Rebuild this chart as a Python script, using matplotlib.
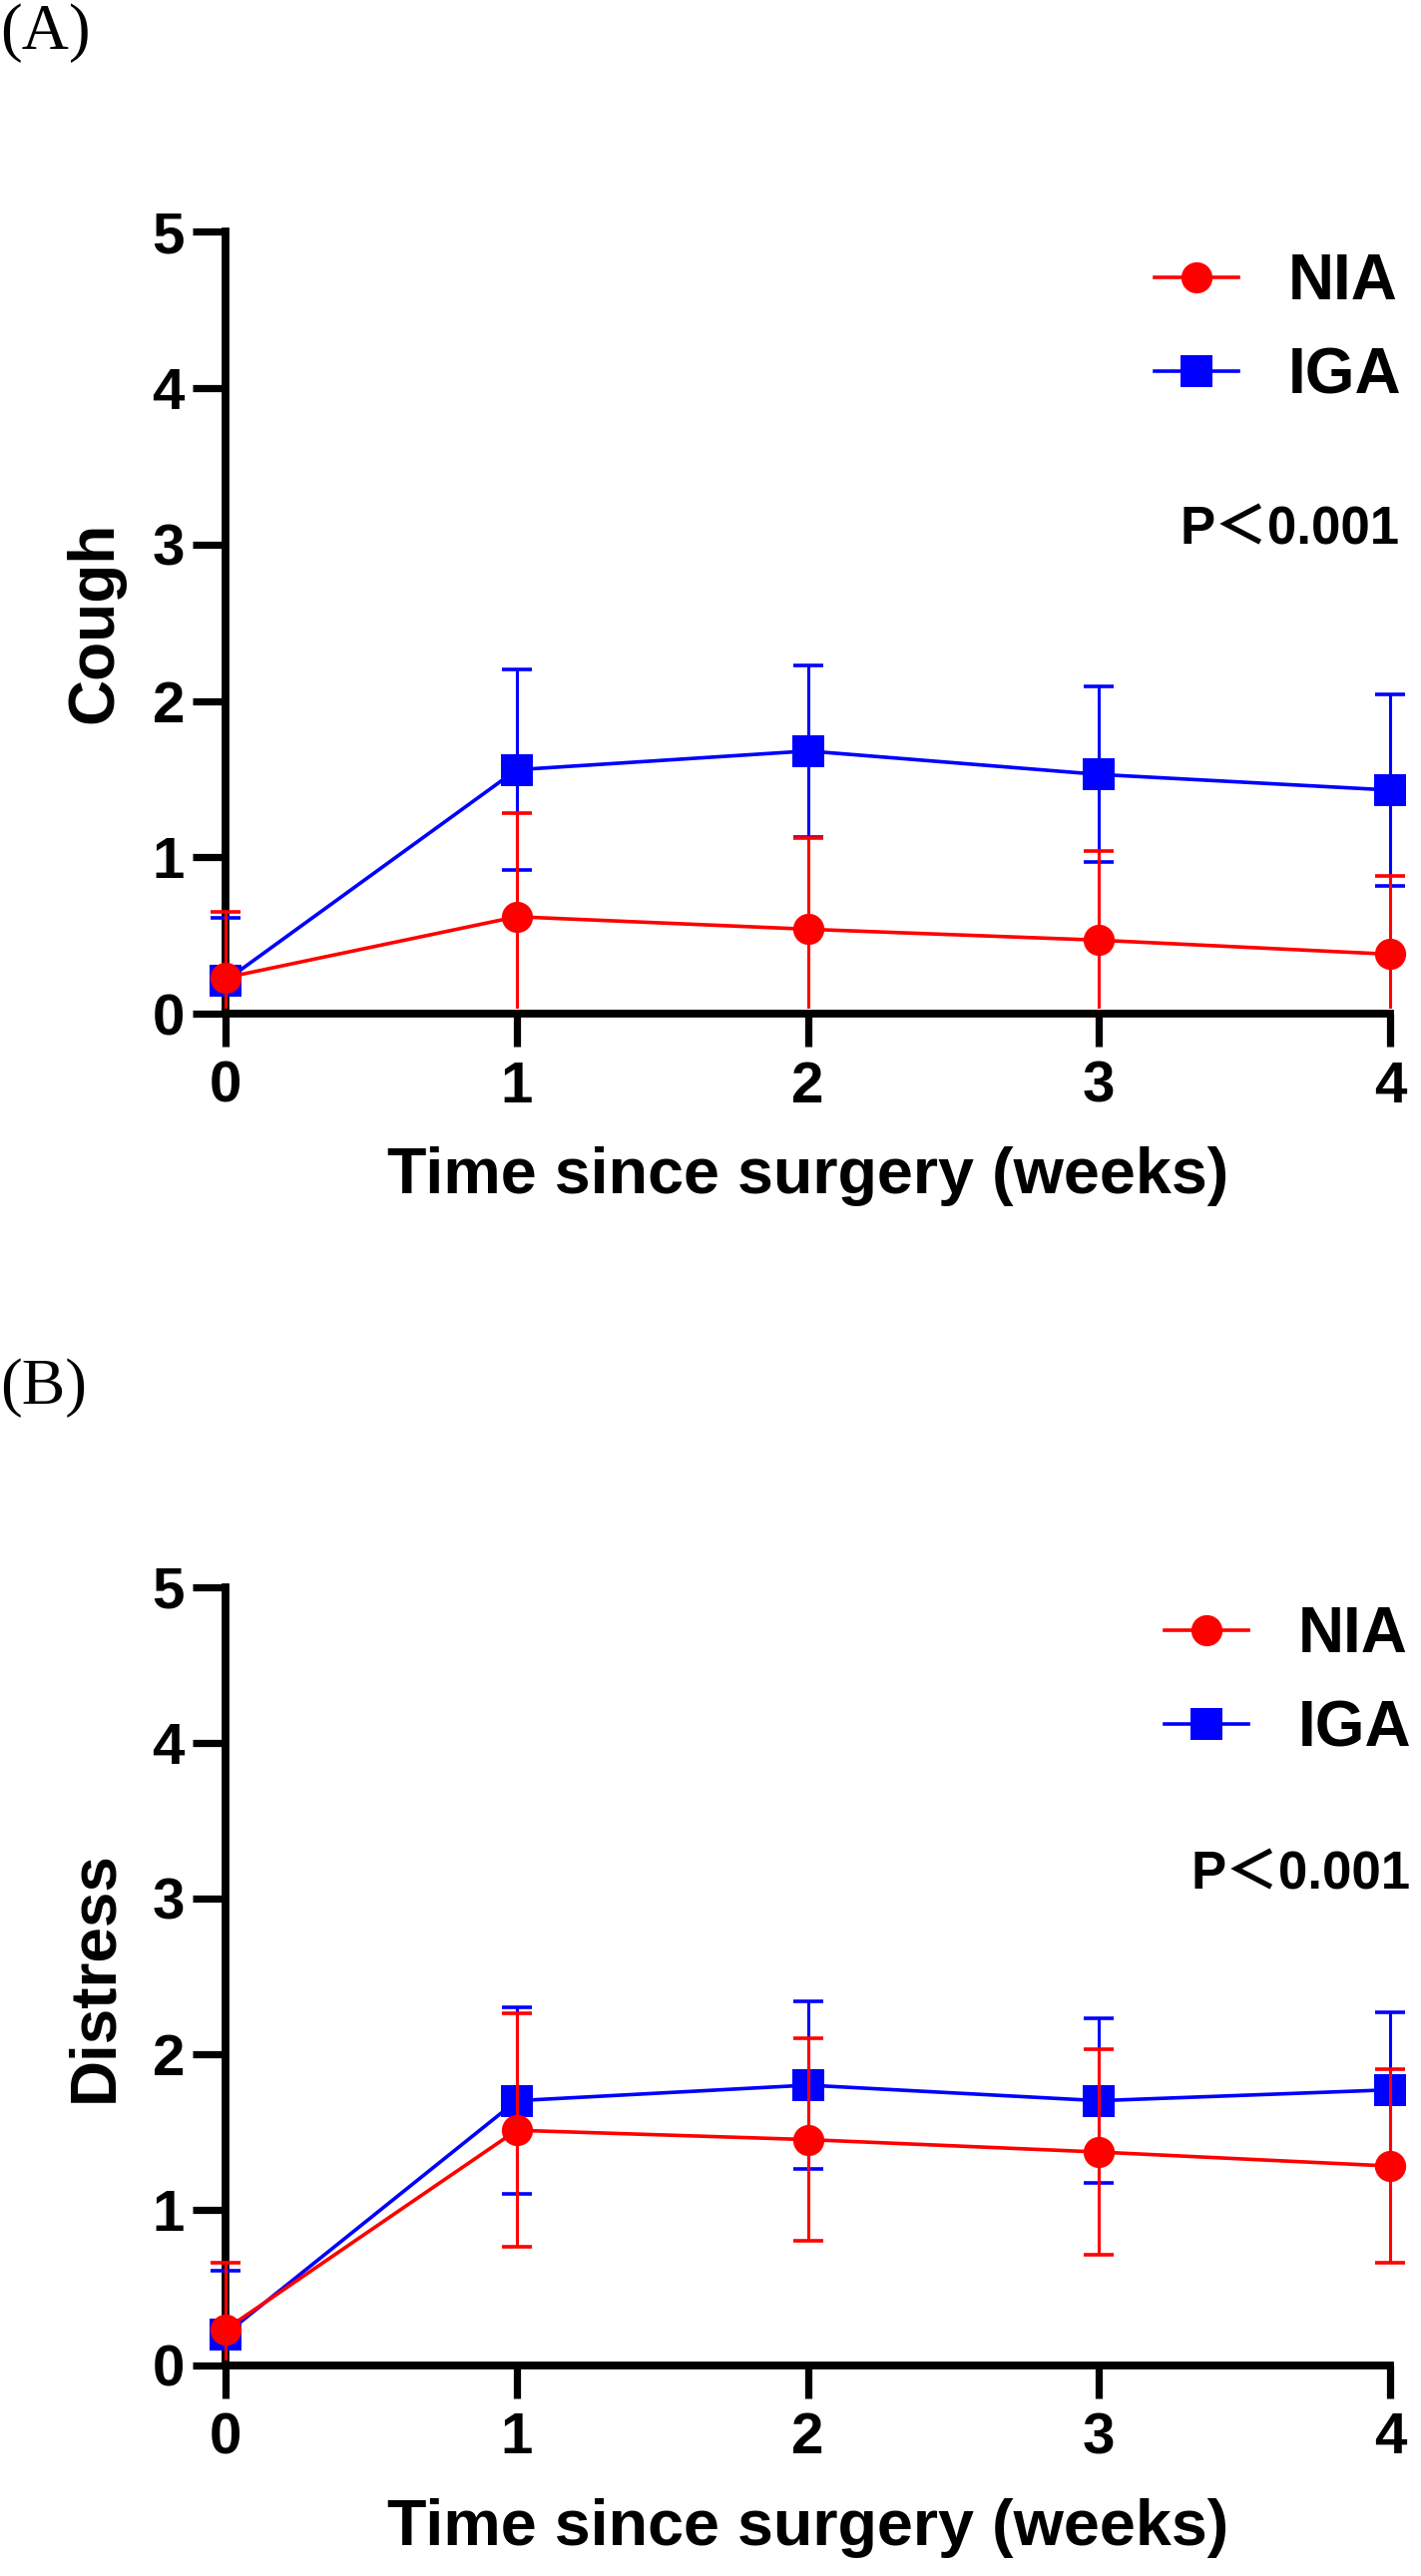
import matplotlib
matplotlib.use("Agg")
import matplotlib.pyplot as plt
from matplotlib.patches import Rectangle

plt.rcParams['font.family'] = ['Liberation Sans', 'Noto Sans CJK SC', 'DejaVu Sans']
plt.rcParams['font.weight'] = 'bold'

weeks = [0, 1, 2, 3, 4]
group_names = ["NIA", "IGA"]

cough_nia_mean = [0.23, 0.62, 0.54, 0.47, 0.38]
cough_nia_sd = [0.42, 0.66, 0.58, 0.57, 0.50]
cough_iga_mean = [0.21, 1.56, 1.68, 1.53, 1.43]
cough_iga_sd = [0.40, 0.64, 0.55, 0.56, 0.61]

distress_nia_mean = [0.23, 1.51, 1.45, 1.37, 1.28]
distress_nia_sd = [0.43, 0.75, 0.65, 0.66, 0.62]
distress_iga_mean = [0.20, 1.70, 1.80, 1.70, 1.77]
distress_iga_sd = [0.41, 0.60, 0.54, 0.53, 0.50]

y_ticks = [0, 1, 2, 3, 4, 5]
x_label = "Time since surgery (weeks)"
p_text = "P\uff1c0.001"

RED = "#FF0000"
BLUE = "#0000FF"

W, H = 1424, 2582
fig = plt.figure(figsize=(W / 100, H / 100), dpi=100)
fig.patch.set_facecolor("white")


def draw_panel(ax, nia_m, nia_s, iga_m, iga_s, ylabel, leg_anchor, p_pos, xlab_y):
    clip_rect = Rectangle((-0.1, 0.006), 1.2, 1.2, transform=ax.transAxes)
    handles = []
    for m, s, color, marker, z, name in [
        (iga_m, iga_s, BLUE, 's', 3, "IGA"),
        (nia_m, nia_s, RED, 'o', 6, "NIA"),
    ]:
        eb = ax.errorbar(weeks, m, yerr=s, fmt='none', ecolor=color,
                         elinewidth=2.2, capsize=11, capthick=2.6, zorder=z)
        for art in list(eb.lines[1]) + list(eb.lines[2]):
            art.set_clip_box(None)
            art.set_clip_path(clip_rect)
        ln, = ax.plot(weeks, m, color=color, lw=2.6, marker=marker,
                      markersize=22.5, markeredgewidth=0, clip_on=False,
                      zorder=z + 1, label=name)
        handles.append(ln)
    handles = handles[::-1]

    ax.set_xlim(0, 4)
    ax.set_ylim(0, 5)
    ax.set_xticks(weeks)
    ax.set_yticks(y_ticks)
    for side in ['top', 'right']:
        ax.spines[side].set_visible(False)
    for side in ['left', 'bottom']:
        ax.spines[side].set_linewidth(5.6)
        ax.spines[side].set_zorder(2.5)
    ax.tick_params(axis='both', which='major', length=23.5, width=5.2,
                   labelsize=42, direction='out')
    ax.tick_params(axis='x', pad=10)
    ax.tick_params(axis='y', pad=6)
    for lab in ax.get_xticklabels() + ax.get_yticklabels():
        lab.set_fontweight('bold')

    ax.set_ylabel(ylabel, fontsize=46, fontweight='bold', va='center')
    ax.yaxis.set_label_coords(-0.1123, 0.5)
    ax.set_xlabel(x_label, fontsize=46.5, fontweight='bold', va='top')
    ax.xaxis.set_label_coords(0.5, xlab_y)

    ax.legend(handles, [h.get_label() for h in handles], loc='upper right',
              bbox_to_anchor=leg_anchor, frameon=False, fontsize=46,
              handlelength=1.3, handletextpad=0.78, labelspacing=0.54,
              borderpad=0, borderaxespad=0, numpoints=1)
    ax.text(p_pos[0], p_pos[1], p_text, transform=ax.transAxes, ha='right',
            va='center', fontsize=38, fontweight='bold')


axA = fig.add_axes([226 / W, 1 - 1016 / H, (1393 - 226) / W, (1016 - 232.5) / H])
axB = fig.add_axes([226 / W, 1 - 2370.7 / H, (1393 - 226) / W, (2370.7 - 1591) / H])

draw_panel(axA, cough_nia_mean, cough_nia_sd, cough_iga_mean, cough_iga_sd,
           "Cough", (1.0094, 0.9738), (1.0086, 0.618), -0.1698)
draw_panel(axB, distress_nia_mean, distress_nia_sd, distress_iga_mean, distress_iga_sd,
           "Distress", (1.018, 0.977), (1.018, 0.6306), -0.1706)

fig.text(0.0, 1 - 49 / H, "(A)", family=['Liberation Serif', 'DejaVu Serif'],
         fontweight='normal', fontsize=47, va='baseline', ha='left')
fig.text(0.0, 1 - 1407 / H, "(B)", family=['Liberation Serif', 'DejaVu Serif'],
         fontweight='normal', fontsize=47, va='baseline', ha='left')

fig.savefig("out.png", dpi=100, facecolor="white")
